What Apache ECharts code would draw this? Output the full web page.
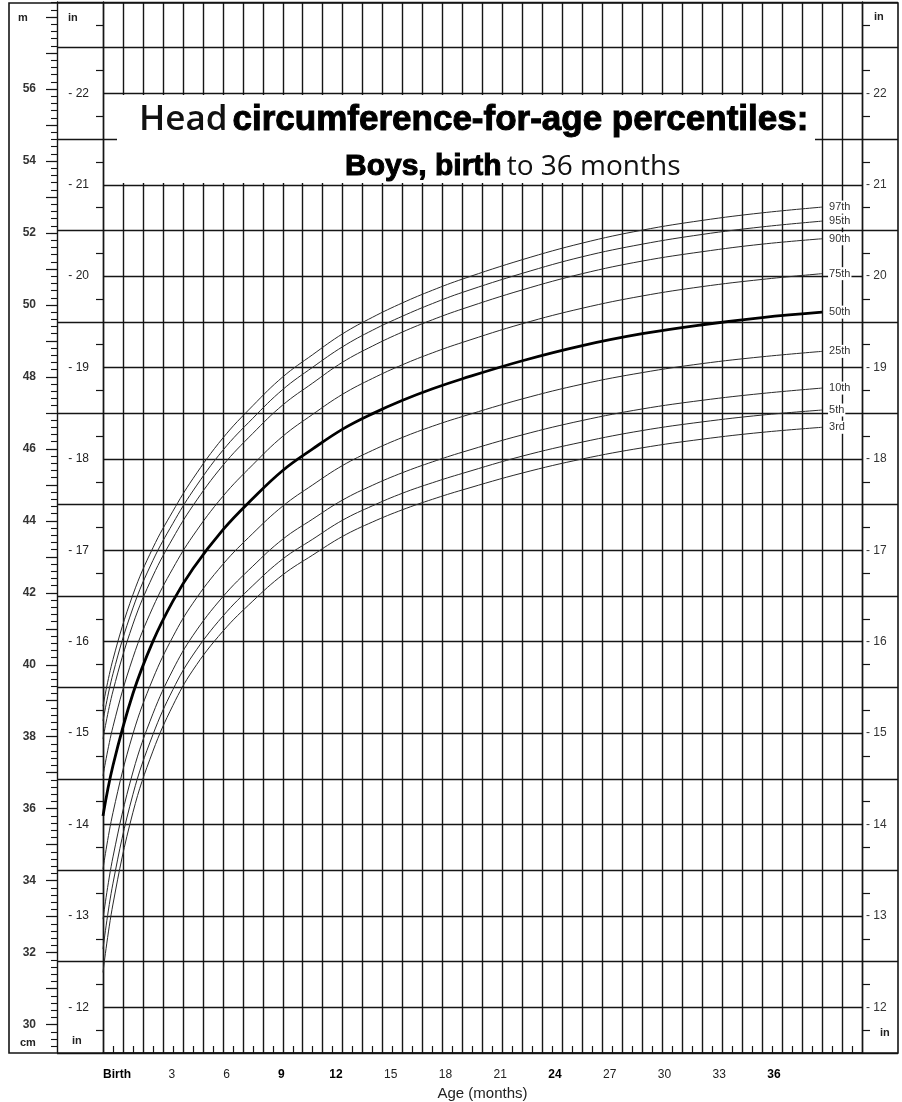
<!DOCTYPE html>
<html>
<head>
<meta charset="utf-8">
<title>Head circumference-for-age percentiles: Boys</title>
<script src="https://cdn.jsdelivr.net/npm/echarts@6.0.0/dist/echarts.min.js"></script>
<style>
  html, body { margin: 0; padding: 0; background: #fff; }
  #chart { width: 902px; height: 1102px; }
</style>
</head>
<body>
<div id="chart"></div>
<script>
// ages in months, values in cm
var ages = [0, 0.5, 1.5, 2.5, 3.5, 4.5, 6, 7.5, 9, 10.5, 12, 13.5, 15, 16.5, 18, 21, 24, 27, 30, 33, 36];

var p3  = [31.45, 33.35, 35.9, 37.6, 38.87, 39.85, 40.93, 41.77, 42.5, 43.05, 43.57, 43.97, 44.31, 44.6, 44.86, 45.33, 45.72, 46.03, 46.27, 46.46, 46.6];
var p5  = [32.1, 33.93, 36.4, 38.06, 39.31, 40.27, 41.35, 42.2, 42.94, 43.49, 44.02, 44.42, 44.77, 45.06, 45.32, 45.8, 46.19, 46.51, 46.75, 46.94, 47.08];
var p10 = [32.93, 34.66, 37.02, 38.64, 39.86, 40.81, 41.89, 42.74, 43.49, 44.05, 44.58, 44.99, 45.34, 45.64, 45.91, 46.39, 46.79, 47.11, 47.35, 47.54, 47.69];
var p25 = [34.32, 35.89, 38.08, 39.61, 40.78, 41.71, 42.79, 43.65, 44.41, 45.0, 45.54, 45.96, 46.32, 46.63, 46.9, 47.39, 47.8, 48.12, 48.37, 48.56, 48.71];
var p50 = [35.8, 37.2, 39.2, 40.65, 41.77, 42.67, 43.75, 44.62, 45.4, 46.0, 46.55, 46.98, 47.35, 47.67, 47.95, 48.45, 48.87, 49.2, 49.45, 49.65, 49.8];
var p75 = [36.91, 38.28, 40.2, 41.6, 42.68, 43.58, 44.68, 45.56, 46.35, 46.96, 47.52, 47.96, 48.34, 48.67, 48.96, 49.48, 49.91, 50.25, 50.51, 50.71, 50.87];
var p90 = [37.94, 39.27, 41.13, 42.47, 43.52, 44.42, 45.54, 46.43, 47.22, 47.83, 48.41, 48.86, 49.25, 49.59, 49.89, 50.42, 50.87, 51.22, 51.48, 51.69, 51.84];
var p95 = [38.44, 39.75, 41.58, 42.9, 43.93, 44.83, 45.96, 46.85, 47.65, 48.27, 48.84, 49.3, 49.69, 50.04, 50.35, 50.88, 51.34, 51.69, 51.96, 52.17, 52.33];
var p97 = [38.85, 40.15, 41.95, 43.25, 44.27, 45.17, 46.3, 47.2, 48.0, 48.62, 49.2, 49.66, 50.06, 50.41, 50.72, 51.26, 51.72, 52.08, 52.35, 52.56, 52.72];

var percentileNames = ['3rd', '5th', '10th', '25th', '50th', '75th', '90th', '95th', '97th'];
var percentileValues = [p3, p5, p10, p25, p50, p75, p90, p95, p97];

// tick labels
var ageLabels = [0, 3, 6, 9, 12, 15, 18, 21, 24, 27, 30, 33, 36];
var ageBold = [0, 9, 12, 24, 36];
var cmLabels = [30, 32, 34, 36, 38, 40, 42, 44, 46, 48, 50, 52, 54, 56];
var inchLabels = [12, 13, 14, 15, 16, 17, 18, 19, 20, 21, 22];

// layout
const GRID_TOP = 2;
const GRID_BOTTOM = 49;
const GRID_LEFT = 103;
const GRID_RIGHT = 40;
const RULER_X = 57;
const IN_MIN = 11.5, IN_MAX = 23;
const CM_MIN = 29.21, CM_MAX = 58.42;   // same span as the inch axis
const INK = '#151515';

var cmTicks = [];
for (var c = 30; c <= 58; c++) cmTicks.push(c);
var cmFineTicks = [];
for (var k = 147; k <= 292; k++) cmFineTicks.push(k / 5);

var chart = echarts.init(document.getElementById('chart'), null, { renderer: 'canvas' });

var gridLine = { show: true, lineStyle: { color: INK, width: 1.4 } };
var hidden = { show: false };
var noLine = { show: false, onZero: false };

var series = percentileNames.map(function (name, i) {
    var bold = name === '50th';
    return {
        name: name,
        type: 'line',
        xAxisIndex: 0,
        yAxisIndex: 0,
        data: ages.map(function (a, j) { return [a, percentileValues[i][j]]; }),
        smooth: 0.4,
        symbol: 'none',
        silent: true,
        z: bold ? 4 : 3,
        lineStyle: { color: bold ? '#000' : '#2a2a2a', width: bold ? 2.8 : 1 },
        endLabel: {
            show: true,
            formatter: name,
            distance: 6,
            fontSize: 11,
            fontFamily: 'Liberation Sans Narrow, Liberation Sans, sans-serif',
            color: '#333',
            backgroundColor: '#fff',
            padding: [1, 1]
        }
    };
});

var option = {
    animation: false,
    backgroundColor: '#fff',
    title: [{
        left: 134,
        top: 98,
        z: 100,
        text: '{h|Head} {b|circumference-for-age percentiles:}',
        textStyle: {
            rich: {
                h: { fontFamily: 'Open Sans', fontWeight: 600, fontSize: 35, color: '#111' },
                b: { fontFamily: 'Liberation Sans', fontWeight: 'bold', fontSize: 35, color: '#000',
                     textBorderColor: '#000', textBorderWidth: 1 }
            }
        }
    }, {
        left: 340,
        top: 147,
        z: 100,
        text: '{b|Boys, birth} {h|to 36 months}',
        textStyle: {
            rich: {
                h: { fontFamily: 'Open Sans', fontWeight: 500, fontSize: 28, color: '#111' },
                b: { fontFamily: 'Liberation Sans', fontWeight: 'bold', fontSize: 30, color: '#000',
                     textBorderColor: '#000', textBorderWidth: 1 }
            }
        }
    }],
    grid: [
        { left: GRID_LEFT, right: GRID_RIGHT, top: GRID_TOP, bottom: GRID_BOTTOM, outerBoundsMode: 'none' },
        { left: RULER_X, width: GRID_LEFT - RULER_X, top: GRID_TOP, bottom: GRID_BOTTOM, outerBoundsMode: 'none' },
        { left: 902 - GRID_RIGHT, right: 4, top: GRID_TOP, bottom: GRID_BOTTOM, outerBoundsMode: 'none' }
    ],
    xAxis: [{
        // month grid
        type: 'value', gridIndex: 0, min: 0, max: 38, interval: 1,
        axisLine: { show: true, onZero: false, lineStyle: { color: INK, width: 1.6 } },
        axisTick: { show: false, inside: true },
        minorTick: { show: true, splitNumber: 2, length: 7, lineStyle: { color: INK, width: 1.2 } },
        axisLabel: hidden,
        splitLine: gridLine
    }, {
        // printed month labels (they sit slightly off the grid on the original)
        type: 'value', gridIndex: 0, position: 'bottom', min: -0.77, max: 40.82,
        axisLine: noLine, axisTick: hidden, splitLine: hidden,
        axisLabel: {
            show: true,
            customValues: ageLabels,
            margin: 16,
            fontSize: 12,
            fontFamily: 'Liberation Sans, sans-serif',
            color: '#222',
            formatter: function (v) {
                var t = v === 0 ? 'Birth' : String(v);
                return ageBold.indexOf(v) >= 0 ? '{b|' + t + '}' : t;
            },
            rich: { b: { fontWeight: 'bold', fontSize: 12, color: '#000', fontFamily: 'Liberation Sans' } }
        },
        name: 'Age (months)',
        nameLocation: 'middle',
        nameGap: 32,
        nameTextStyle: { fontSize: 15, color: '#222', fontFamily: 'Liberation Sans, sans-serif' }
    }, {
        type: 'value', gridIndex: 1, min: 0, max: 1, show: false, axisLine: noLine
    }, {
        type: 'value', gridIndex: 2, min: 0, max: 1, show: false, axisLine: noLine
    }],
    yAxis: [{
        // cm ruler (data axis)
        type: 'value', gridIndex: 0, position: 'left', offset: GRID_LEFT - RULER_X,
        min: CM_MIN, max: CM_MAX,
        axisLine: { show: true, onZero: false, lineStyle: { color: INK, width: 1.4 } },
        axisTick: { show: true, length: 11, customValues: cmTicks, lineStyle: { color: INK, width: 1.2 } },
        axisLabel: {
            show: true, customValues: cmLabels, margin: 21,
            fontSize: 12, fontWeight: 'bold', color: '#333', fontFamily: 'Liberation Sans, sans-serif'
        },
        splitLine: hidden
    }, {
        // inches, left
        type: 'value', gridIndex: 0, position: 'left', offset: 0,
        min: IN_MIN, max: IN_MAX, interval: 0.5,
        axisLine: { show: true, onZero: false, lineStyle: { color: INK, width: 1.4 } },
        axisTick: { show: false },
        minorTick: { show: true, splitNumber: 2, length: 7, lineStyle: { color: INK, width: 1.2 } },
        axisLabel: {
            show: true, margin: 14, fontSize: 12, color: '#222', fontFamily: 'Liberation Sans, sans-serif',
            formatter: function (v) { return inchLabels.indexOf(v) >= 0 ? '- ' + v : ''; }
        },
        splitLine: gridLine
    }, {
        // fine cm ruler ticks
        type: 'value', gridIndex: 0, position: 'left', offset: GRID_LEFT - RULER_X,
        min: CM_MIN, max: CM_MAX,
        axisLine: noLine,
        axisTick: { show: true, length: 6, customValues: cmFineTicks, lineStyle: { color: INK, width: 1.1 } },
        axisLabel: hidden,
        splitLine: hidden
    }, {
        // inches, right
        type: 'value', gridIndex: 0, position: 'right', offset: 0,
        min: IN_MIN, max: IN_MAX, interval: 0.5,
        axisLine: { show: true, onZero: false, lineStyle: { color: INK, width: 1.4 } },
        axisTick: { show: false },
        minorTick: { show: true, splitNumber: 2, length: 8, lineStyle: { color: INK, width: 1.2 } },
        axisLabel: {
            show: true, margin: 4, fontSize: 12, color: '#333', fontFamily: 'Liberation Sans, sans-serif',
            formatter: function (v) { return inchLabels.indexOf(v) >= 0 ? '- ' + v : ''; }
        },
        splitLine: hidden
    }, {
        // half-inch lines running across the inch column on the left
        type: 'value', gridIndex: 1, min: IN_MIN, max: IN_MAX, interval: 1,
        axisLine: noLine, axisTick: hidden, axisLabel: hidden,
        splitLine: gridLine
    }, {
        // half-inch lines running out to the right edge
        type: 'value', gridIndex: 2, min: IN_MIN, max: IN_MAX, interval: 1,
        axisLine: noLine, axisTick: hidden, axisLabel: hidden,
        splitLine: gridLine
    }],
    graphic: [
        // blank band behind the title
        { type: 'rect', z: 50, shape: { x: 117, y: 95, width: 698, height: 88 }, style: { fill: '#fff' } },
        // outer frame
        { type: 'rect', z: 60, shape: { x: 9, y: 3, width: 889, height: 1050 },
          style: { fill: null, stroke: INK, lineWidth: 1.6 } },
        { type: 'text', z: 60, left: 18, top: 12, style: { text: 'm', font: 'bold 11px Liberation Sans', fill: '#222' } },
        { type: 'text', z: 60, left: 68, top: 12, style: { text: 'in', font: 'bold 11px Liberation Sans', fill: '#222' } },
        { type: 'text', z: 60, left: 874, top: 11, style: { text: 'in', font: 'bold 11px Liberation Sans', fill: '#222' } },
        { type: 'text', z: 60, left: 20, top: 1037, style: { text: 'cm', font: 'bold 11px Liberation Sans', fill: '#222' } },
        { type: 'text', z: 60, left: 72, top: 1035, style: { text: 'in', font: 'bold 11px Liberation Sans', fill: '#222' } },
        { type: 'text', z: 60, left: 880, top: 1027, style: { text: 'in', font: 'bold 11px Liberation Sans', fill: '#222' } }
    ],
    series: series
};

chart.setOption(option);
</script>
</body>
</html>
